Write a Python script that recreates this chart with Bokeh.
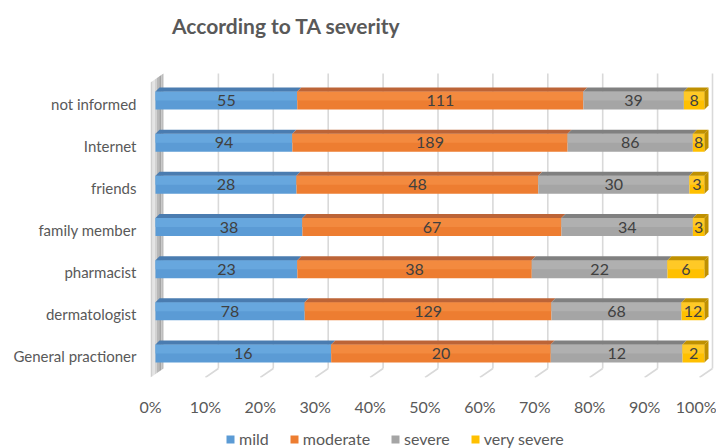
from bokeh.plotting import figure
from bokeh.layouts import column
from bokeh.models import Range1d, FixedTicker, Legend, LegendItem, Label
from bokeh.embed import file_html
from bokeh.resources import INLINE
from bokeh.core.properties import value

# ---- data -------------------------------------------------------------
categories = ["not informed", "Internet", "friends", "family member",
              "pharmacist", "dermatologist", "General practioner"]
mild = [55, 94, 28, 38, 23, 78, 16]
moderate = [111, 189, 48, 67, 38, 129, 20]
severe = [39, 86, 30, 34, 22, 68, 12]
very_severe = [8, 8, 3, 3, 6, 12, 2]
series_names = ["mild", "moderate", "severe", "very severe"]
pct_ticks = [0, 10, 20, 30, 40, 50, 60, 70, 80, 90, 100]
pct_labels = ["0%", "10%", "20%", "30%", "40%", "50%", "60%", "70%", "80%", "90%", "100%"]
chart_title = "According to TA severity"

# ---- styling ----------------------------------------------------------
front_colors = ["#5B9BD5", "#ED7D31", "#A5A5A5", "#FFC000"]
light_colors = ["#67A7DE", "#F38A3F", "#B0B0B0", "#FFC926"]
top_colors = ["#4A7CB0", "#BC6437", "#808080", "#BF9000"]
FONT = "Lato"
TEXT_GREY = "#595959"

W = 716
H_TITLE, H_MAIN, H_LEGEND = 48, 376, 24
FRAME_L = 150                       # left edge of the chart frame
FRAME_T, FRAME_B = 22, 329          # frame top / floor front edge (main figure)
PX_PER_PCT = 5.49                   # horizontal pixels per percent
PX_PER_ROW = 42.14                  # vertical pixels per category row
n = len(categories)


def px(dx, dy):
    """Convert a pixel offset (x right, y down) into data units."""
    return dx / PX_PER_PCT, -dy / PX_PER_ROW


WALL_BACK = px(13, -9)   # depth of the floor / side wall
BAR_FRONT = px(5, -3)    # depth position of the bar front faces
BAR_BACK = px(9, -7)     # depth position of the bar back faces
HALF_BAR = 9 / PX_PER_ROW


def blank(height):
    """A bare figure used as a strip for the title or the legend."""
    f = figure(width=W, height=height, output_backend="svg",
               toolbar_location=None,
               x_range=Range1d(0, W - FRAME_L), y_range=Range1d(0, height),
               min_border_left=FRAME_L, min_border_right=0,
               min_border_top=0, min_border_bottom=0)
    f.axis.visible = False
    f.xgrid.visible = False
    f.ygrid.visible = False
    f.outline_line_color = None
    f.border_fill_color = "white"
    return f


# ---- title strip ------------------------------------------------------
tt = blank(H_TITLE)
tt.add_layout(Label(x=136, y=H_TITLE - 25, text=chart_title,
                    text_align="center", text_baseline="middle",
                    text_font=FONT, text_font_size="21px",
                    text_font_style="bold", text_color=TEXT_GREY))

# ---- main chart -------------------------------------------------------
p = figure(width=W, height=H_MAIN, output_backend="svg", toolbar_location=None,
           x_range=Range1d(0, (W - FRAME_L) / PX_PER_PCT),
           y_range=Range1d(0, (FRAME_B - FRAME_T) / PX_PER_ROW),
           min_border_left=FRAME_L, min_border_right=0,
           min_border_top=FRAME_T, min_border_bottom=H_MAIN - FRAME_B)
p.outline_line_color = None
p.xgrid.visible = False
p.ygrid.visible = False
p.background_fill_color = "white"
p.border_fill_color = "white"

# side wall, shaded in strips across its depth
wall_shades = ["#cfcfcf", "#e4e4e4", "#d2d2d2", "#b8b8b8", "#a4a4a4", "#bdbdbd"]
bx, by = WALL_BACK
k = len(wall_shades)
for j, c in enumerate(wall_shades):
    f0, f1 = j / k, (j + 1) / k
    p.patch([f0 * bx, f0 * bx, f1 * bx, f1 * bx],
            [f0 * by, n + f0 * by, n + f1 * by, f1 * by],
            fill_color=c, line_color=None)

# back wall gridlines and floor ticks
grid_ticks = [t for t in pct_ticks if t > 0]
p.segment(x0=[t + bx for t in grid_ticks], y0=[by] * len(grid_ticks),
          x1=[t + bx for t in grid_ticks], y1=[n + by] * len(grid_ticks),
          line_color="#d9d9d9", line_width=1.6)
p.segment(x0=grid_ticks, y0=[0] * len(grid_ticks),
          x1=[t + bx for t in grid_ticks], y1=[by] * len(grid_ticks),
          line_color="#d9d9d9", line_width=1.6)

# stacked 100% bars
series = [mild, moderate, severe, very_severe]
totals = [sum(s[i] for s in series) for i in range(n)]
fx, fy = BAR_FRONT
kx, ky = BAR_BACK

for si, (name, vals) in enumerate(zip(series_names, series)):
    lefts, rights, tops, bottoms = [], [], [], []
    top_xs, top_ys = [], []
    lab_x, lab_y, lab_t = [], [], []
    for i in range(n):
        before = sum(series[j][i] for j in range(si))
        l = 100 * before / totals[i]
        r = 100 * (before + vals[i]) / totals[i]
        yc = n - i - 0.5
        b, t = yc - HALF_BAR + fy, yc + HALF_BAR + fy
        lefts.append(l + fx)
        rights.append(r + fx)
        bottoms.append(b)
        tops.append(t)
        top_xs.append([l + fx, r + fx, r + kx, l + kx])
        top_ys.append([t, t, t - fy + ky, t - fy + ky])
        lab_x.append((l + r) / 2 + fx)
        lab_y.append(yc + fy)
        lab_t.append(str(vals[i]))
    p.quad(left=lefts, right=rights, bottom=bottoms, top=tops,
           fill_color=front_colors[si], line_color=None)
    # soft highlight on the upper part of each front face
    p.quad(left=lefts, right=rights,
           bottom=[(b + t) / 2 for b, t in zip(bottoms, tops)], top=tops,
           fill_color=light_colors[si], line_color=None)
    p.patches(top_xs, top_ys, fill_color=top_colors[si], line_color=None)
    p.text(x=lab_x, y=lab_y, text=lab_t, text_align="center",
           text_baseline="middle", text_font=value(FONT),
           text_font_size="16px", text_color="#404040")

# right end side face of every bar
side_xs, side_ys = [], []
for i in range(n):
    yc = n - i - 0.5
    b, t = yc - HALF_BAR + fy, yc + HALF_BAR + fy
    side_xs.append([100 + fx, 100 + kx, 100 + kx, 100 + fx])
    side_ys.append([b, b - fy + ky, t - fy + ky, t])
p.patches(side_xs, side_ys, fill_color=top_colors[3], line_color=None)

# axes
xa = p.xaxis[0]
xa.ticker = FixedTicker(ticks=pct_ticks)
xa.major_label_overrides = dict(zip(pct_ticks, pct_labels))
xa.axis_line_color = None
xa.major_tick_line_color = None
xa.minor_tick_line_color = None
xa.major_tick_out = 0
xa.major_label_standoff = 19
xa.major_label_text_font = FONT
xa.major_label_text_font_size = "16px"
xa.major_label_text_color = TEXT_GREY

ya = p.yaxis[0]
row_pos = [n - i - 0.5 for i in range(n)]
ya.ticker = FixedTicker(ticks=row_pos)
ya.major_label_overrides = dict(zip(row_pos, categories))
ya.axis_line_color = None
ya.major_tick_line_color = None
ya.minor_tick_line_color = None
ya.major_tick_out = 0
ya.major_label_standoff = 14
ya.major_label_text_font = FONT
ya.major_label_text_font_size = "15px"
ya.major_label_text_color = TEXT_GREY

# ---- legend strip -----------------------------------------------------
lg = blank(H_LEGEND)
# legend keys: one off-screen square per series, used only for their swatches
keys = [lg.quad(left=[-50], right=[-40], bottom=[-50], top=[-40],
                fill_color=c, line_color=None) for c in front_colors]
legend = Legend(items=[LegendItem(label=nm, renderers=[r])
                       for nm, r in zip(series_names, keys)],
                orientation="horizontal", location=(75, 0),
                border_line_color=None, background_fill_alpha=0,
                glyph_width=10, glyph_height=10, label_standoff=4,
                spacing=20, padding=0, margin=0,
                label_text_font=FONT, label_text_font_size="16px",
                label_text_color=TEXT_GREY)
lg.add_layout(legend, "center")

open("out.html", "w").write(file_html(column(tt, p, lg), INLINE))
